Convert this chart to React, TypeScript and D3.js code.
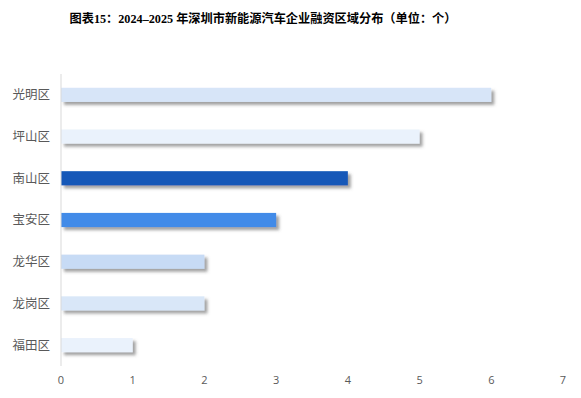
import React from "react";
import * as d3 from "d3";

const categories = ["光明区", "坪山区", "南山区", "宝安区", "龙华区", "龙岗区", "福田区"];
const values = [6, 5, 4, 3, 2, 2, 1];
const colors = ["#D7E5F8", "#EAF2FC", "#1558B8", "#428BE8", "#C7DBF5", "#D9E7F8", "#EAF2FC"];
const ticks = [0, 1, 2, 3, 4, 5, 6, 7];
const title = "图表15：2024–2025 年深圳市新能源汽车企业融资区域分布（单位：个）";

const W = 581;
const H = 398;

const App = () => {
  const x = d3.scaleLinear().domain([0, 7]).range([61, 563]);
  const y = d3.scaleBand().domain(categories).range([74, 366]).paddingInner(0.66).paddingOuter(0.33);

  return (
    <svg width={W} height={H} style={{ position: "absolute", left: 0, top: 0, background: "#fff" }}>
      <defs>
        <filter id="shadow" x="-5%" y="-50%" width="115%" height="250%">
          <feDropShadow dx="3" dy="3" stdDeviation="1.4" floodColor="#555" floodOpacity="0.55" />
        </filter>
      </defs>
      <text
        x={263}
        y={23}
        textAnchor="middle"
        fontSize={12.2}
        fontWeight="bold"
        fontFamily="'Liberation Serif', 'Noto Sans CJK SC', serif"
        fill="#000"
      >
        {title}
      </text>
      {categories.map((c, i) => (
        <g key={c}>
          <rect
            x={x(0)}
            y={y(c)!}
            width={x(values[i]) - x(0)}
            height={y.bandwidth()}
            fill={colors[i]}
            filter="url(#shadow)"
          />
          <text
            x={50}
            y={y(c)! + y.bandwidth() / 2}
            dy="0.35em"
            textAnchor="end"
            fontSize={12.5}
            fontFamily="'Noto Sans CJK SC', sans-serif"
            fill="#595959"
          >
            {c}
          </text>
        </g>
      ))}
      <line x1={x(0)} x2={x(0)} y1={74} y2={366} stroke="#D9D9D9" strokeWidth={1} />
      {ticks.map((t) => (
        <text
          key={t}
          x={x(t)}
          y={384}
          textAnchor="middle"
          fontSize={11}
          fontFamily="'Open Sans', 'Noto Sans', sans-serif"
          fill="#595959"
        >
          {t}
        </text>
      ))}
    </svg>
  );
};

export default App;
